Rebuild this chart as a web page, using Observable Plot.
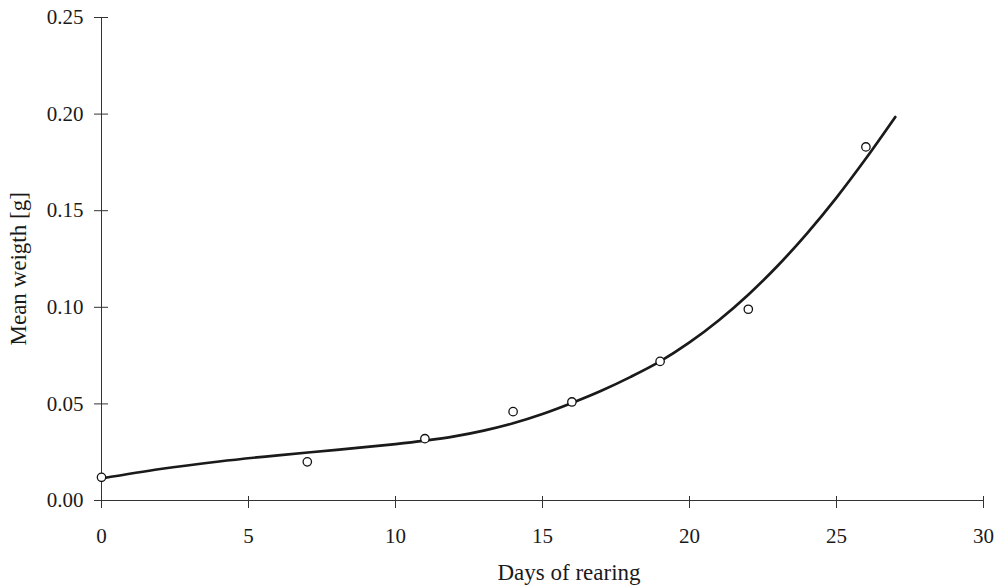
<!DOCTYPE html>
<html>
<head>
<meta charset="utf-8">
<script src="https://cdn.jsdelivr.net/npm/d3@7"></script>
<script src="https://cdn.jsdelivr.net/npm/@observablehq/plot@0.6"></script>
<style>
  html, body { margin: 0; padding: 0; background: #fff; }
  #chart { width: 997px; height: 587px; }
</style>
</head>
<body>
<div id="chart"></div>
<script>
// Observed mean weights
const days = [0, 7, 11, 14, 16, 19, 22, 26];
const weights = [0.012, 0.020, 0.032, 0.046, 0.051, 0.072, 0.099, 0.183];

// Fitted curve
const fitDays = [0, 2, 4, 6, 8, 10, 11, 12, 13, 14, 15, 16, 17, 18, 19, 20, 21, 22, 23, 24, 25, 26, 27];
const fitWeights = [0.0114, 0.0163, 0.0202, 0.0234, 0.0262, 0.0292, 0.0310, 0.0332, 0.0362, 0.0400, 0.0448, 0.0505, 0.0568, 0.0640, 0.0720, 0.0818, 0.0933, 0.1065, 0.1215, 0.1383, 0.1568, 0.1770, 0.1985];

const xTicks = [0, 5, 10, 15, 20, 25, 30];
const yTicks = [0, 0.05, 0.10, 0.15, 0.20, 0.25];
const xLabel = "Days of rearing";
const yLabel = "Mean weigth [g]";

const points = days.map((d, i) => ({day: d, weight: weights[i]}));
const fit = fitDays.map((d, i) => ({day: d, weight: fitWeights[i]}));

const axisColor = "#333";
const textColor = "#1a1a1a";

const chart = Plot.plot({
  width: 997,
  height: 587,
  marginLeft: 101,
  marginRight: 14,
  marginTop: 17,
  marginBottom: 87,
  style: {fontFamily: "'Liberation Serif', serif", fontSize: "21px", color: textColor, background: "#fff"},
  x: {domain: [0, 30], label: null},
  y: {domain: [0, 0.25], label: null},
  marks: [
    Plot.axisX({ticks: xTicks, tickSize: 8, tickPadding: 20, tickFormat: d3.format("d"), label: null, stroke: axisColor, fill: textColor}),
    Plot.axisX({ticks: xTicks, tickSize: -4, tickFormat: () => "", label: null, stroke: axisColor}),
    Plot.axisY({ticks: yTicks, tickSize: 7, tickPadding: 11, tickFormat: d3.format(".2f"), label: null, stroke: axisColor, fill: textColor}),
    Plot.axisY({ticks: yTicks, tickSize: -7, tickFormat: () => "", label: null, stroke: axisColor}),
    Plot.ruleY([0], {stroke: axisColor, strokeWidth: 1}),
    Plot.ruleX([0], {stroke: axisColor, strokeWidth: 1}),
    Plot.line(fit, {x: "day", y: "weight", curve: "catmull-rom", stroke: "#1a1a1a", strokeWidth: 2.7}),
    Plot.dot(points, {x: "day", y: "weight", r: 4.2, fill: "#fff", stroke: "#111", strokeWidth: 1.3}),
    Plot.text([xLabel], {text: d => d, frameAnchor: "bottom-left", textAnchor: "start", lineAnchor: "middle", dx: 396, dy: 72.5, fontSize: 23, fill: textColor}),
    Plot.text([yLabel], {text: d => d, frameAnchor: "bottom-left", textAnchor: "start", lineAnchor: "middle", rotate: -90, dx: -83, dy: -155, fontSize: 23, fill: textColor})
  ]
});

document.getElementById("chart").appendChild(chart);
</script>
</body>
</html>
